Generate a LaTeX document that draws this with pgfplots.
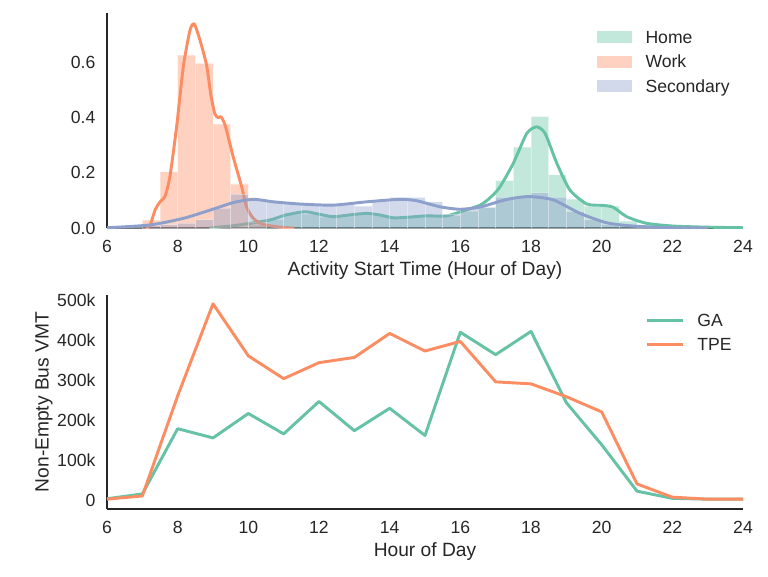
\documentclass[border=0pt]{standalone}
\usepackage{pgfplots}
\pgfplotsset{compat=1.18}
\usepackage{fontspec}
\setmainfont{Liberation Sans}
\definecolor{cA}{RGB}{102,194,165}
\definecolor{cB}{RGB}{252,141,98}
\definecolor{cC}{RGB}{141,160,203}
\definecolor{txt}{RGB}{38,38,38}
\newcommand{\tickfont}{\fontsize{13.2}{15.8}\selectfont}
\newcommand{\labfont}{\fontsize{14.4}{17.3}\selectfont}
\pgfplotsset{
  common/.style={
    scale only axis, width=477pt,
    xmin=6, xmax=24,
    xtick={6,8,...,24}, xticklabels={6,8,10,12,14,16,18,20,22,24},
    axis x line*=bottom, axis y line*=left,
    axis line style={-, draw=txt, line width=1.5pt},
    major tick length=0pt,
    tick label style={font=\tickfont, text=txt, inner sep=0pt},
    xticklabel style={anchor=north, yshift=-9pt},
    yticklabel style={anchor=east, xshift=-8.5pt},
    label style={font=\labfont, text=txt, inner sep=0pt},
    xlabel style={at={(axis description cs:0.5,-0.22)}, anchor=base},
    legend cell align=left,
    legend style={draw=none, fill=none, inner sep=0pt, outer sep=0pt,
      anchor=north west, font=\tickfont, text=txt, row sep=5pt,
      nodes={inner sep=0pt, text height=11.4pt, text depth=2pt},
      /tikz/every odd column/.append style={column sep=10pt}},
  },
  hist/.style={ybar interval, fill=#1, fill opacity=0.4, draw=white, draw opacity=0.35, line width=0.5pt, forget plot},
  kde/.style={draw=#1, line width=2.2pt, smooth, tension=0.4, line join=round, forget plot},
}
\begin{document}
\begin{tikzpicture}
\useasboundingbox (0,0) rectangle (576pt,432pt);
% ---------------- top axis ----------------
\begin{axis}[common,
  at={(80.25pt,261pt)}, anchor=south west, height=161.25pt,
  ymin=0, ymax=0.78,
  ytick={0,0.2,0.4,0.6}, yticklabels={0.0,0.2,0.4,0.6},
  xlabel={Activity Start Time (Hour of Day)},
  legend style={at={(axis description cs:0.7704,0.9300)}},
]
% Home histogram
\addplot[hist=cA] coordinates {
(9.5,0.005)(10.0,0.012)(10.5,0.03)(11.0,0.055)(11.5,0.05)(12.0,0.04)(12.5,0.045)
(13.0,0.05)(13.5,0.045)(14.0,0.035)(14.5,0.04)(15.0,0.045)(15.5,0.045)(16.0,0.06)
(16.5,0.075)(17.0,0.172)(17.5,0.293)(18.0,0.404)(18.5,0.193)(19.0,0.105)(19.5,0.08)
(20.0,0.08)(20.5,0.025)(21.0,0.01)(21.5,0.004)(22.0,0)};
% Home KDE
\addplot[kde=cA] coordinates {
(8.9,0)(9.4,0.006)(9.86,0.013)(10.61,0.029)(11.0,0.045)(11.4,0.056)(11.65,0.059)
(12.0,0.05)(12.4,0.041)(12.9,0.048)(13.35,0.053)(13.73,0.047)(14.1,0.037)(14.5,0.039)
(15.05,0.044)(15.61,0.044)(16.18,0.066)(16.56,0.083)(16.8,0.105)(17.1,0.145)(17.5,0.235)
(17.88,0.343)(18.16,0.367)(18.4,0.343)(18.73,0.235)(19.1,0.138)(19.58,0.087)(20.05,0.082)
(20.33,0.075)(20.71,0.041)(21.27,0.017)(22.03,0.007)(23,0.003)(24,0.001)};
% Work histogram
\addplot[hist=cB] coordinates {
(7.0,0.029)(7.5,0.204)(8.0,0.627)(8.5,0.597)(9.0,0.377)(9.5,0.160)(10.0,0.02)(10.5,0)};
% Work KDE
\addplot[kde=cB] coordinates {
(7.1,0)(7.22,0.01)(7.36,0.065)(7.5,0.095)(7.64,0.114)(7.78,0.186)(7.97,0.367)
(8.16,0.585)(8.35,0.718)(8.47,0.74)(8.63,0.682)(8.82,0.59)(8.93,0.49)(9.05,0.415)
(9.15,0.40)(9.22,0.404)(9.34,0.374)(9.57,0.259)(9.81,0.15)(9.95,0.077)(10.14,0.035)
(10.42,0.013)(10.9,0.003)(11.3,0)};
% Secondary histogram
\addplot[hist=cC] coordinates {
(6.0,0.002)(6.5,0.003)(7.0,0.008)(7.5,0.012)(8.0,0.018)(8.5,0.03)(9.0,0.072)(9.5,0.123)
(10.0,0.1)(10.5,0.095)(11.0,0.09)(11.5,0.087)(12.0,0.087)(12.5,0.085)(13.0,0.08)
(13.5,0.098)(14.0,0.111)(14.5,0.111)(15.0,0.095)(15.5,0.05)(16.0,0.07)(16.5,0.075)
(17.0,0.112)(17.5,0.113)(18.0,0.128)(18.5,0.112)(19.0,0.06)(19.5,0.03)(20.0,0.015)
(20.5,0.008)(21.0,0.004)(21.5,0.002)(22.0,0)};
% Secondary KDE
\addplot[kde=cC] coordinates {
(6,0.001)(7.22,0.011)(8.16,0.035)(8.92,0.065)(9.57,0.092)(10.14,0.104)(10.71,0.095)
(11.46,0.087)(12.4,0.083)(13.35,0.095)(14.29,0.104)(14.76,0.099)(15.42,0.077)
(15.99,0.068)(16.56,0.076)(17.12,0.097)(17.5,0.108)(17.97,0.114)(18.63,0.102)
(19.39,0.053)(20.14,0.019)(20.9,0.007)(22,0.001)(23,0)};
\addlegendimage{legend image code/.code={\path[draw=none, fill=cA, fill opacity=0.4] (0pt,-4.5pt) rectangle (26.4pt,4.5pt);}}
\addlegendentry{Home}
\addlegendimage{legend image code/.code={\path[draw=none, fill=cB, fill opacity=0.4] (0pt,-4.5pt) rectangle (26.4pt,4.5pt);}}
\addlegendentry{Work}
\addlegendimage{legend image code/.code={\path[draw=none, fill=cC, fill opacity=0.4] (0pt,-4.5pt) rectangle (26.4pt,4.5pt);}}
\addlegendentry{Secondary}
\end{axis}
% ---------------- bottom axis ----------------
\begin{axis}[common,
  at={(80.25pt,50.25pt)}, anchor=south west, height=160.5pt,
  ymin=-22.6, ymax=512,
  ytick={0,100,200,300,400,500}, yticklabels={0,100k,200k,300k,400k,500k},
  xlabel={Hour of Day},
  ylabel={Non-Empty Bus VMT},
  ylabel style={at={(axis description cs:-0.0916,0.5)}, anchor=base},
  legend style={at={(axis description cs:0.8475,0.924)}},
  legend image code/.code={\draw[#1] (0pt,0pt) -- (26.4pt,0pt);},
]
\addplot[draw=cA, line width=2.2pt, line join=round] coordinates {
(6,3)(7,15)(8,178)(9,155)(10,216)(11,165)(12,246)(13,173)(14,229)(15,161)
(16,419)(17,363)(18,421)(19,243)(20,138)(21,22)(22,4)(23,2)(24,2)};
\addlegendentry{GA}
\addplot[draw=cB, line width=2.2pt, line join=round] coordinates {
(6,2)(7,10)(8,260)(9,490)(10,360)(11,303)(12,343)(13,356)(14,416)(15,372)
(16,396)(17,295)(18,290)(19,258)(20,220)(21,40)(22,7)(23,2)(24,2)};
\addlegendentry{TPE}
\end{axis}
\end{tikzpicture}
\end{document}
